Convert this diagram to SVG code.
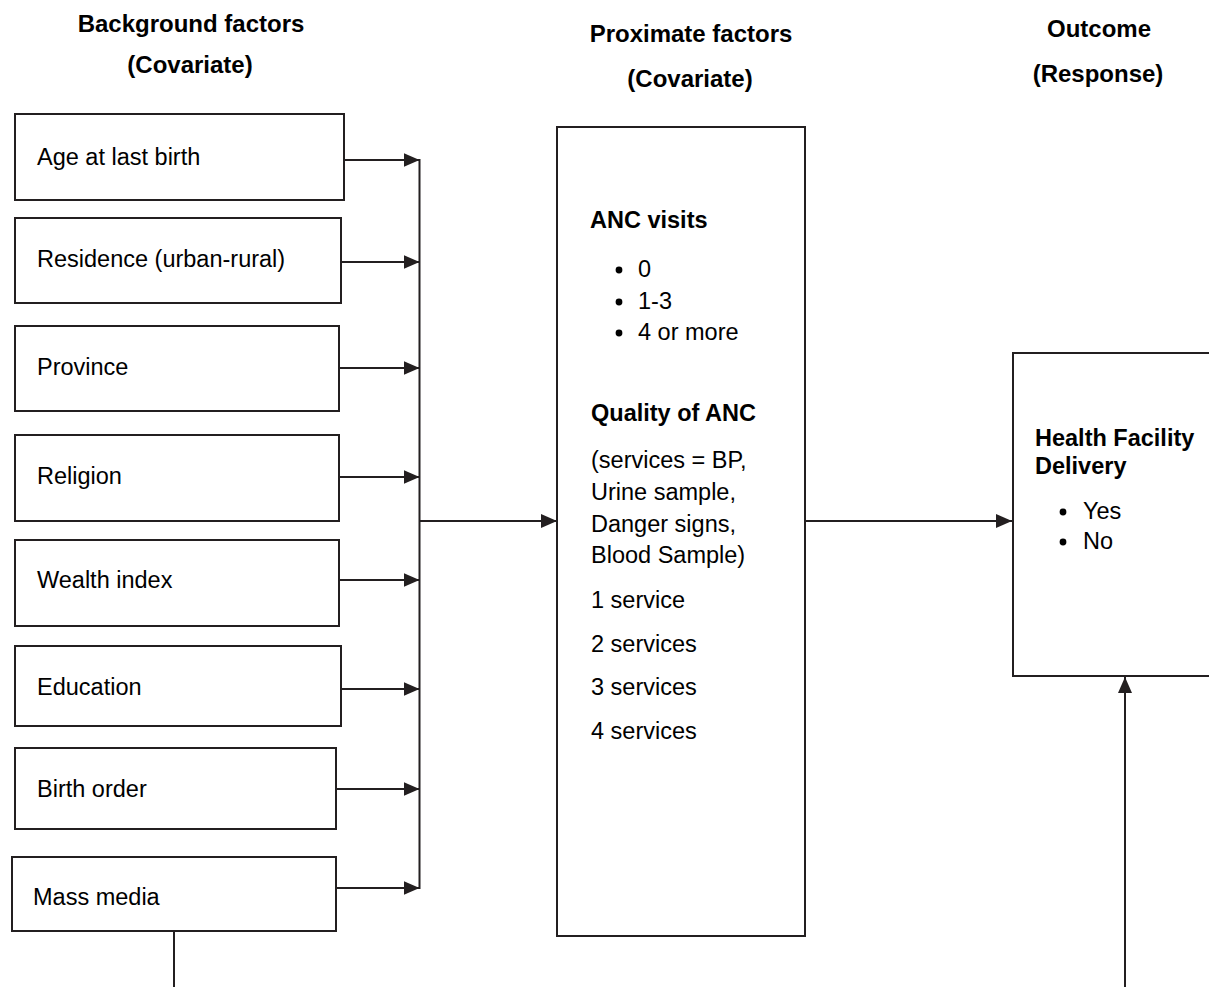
<svg xmlns="http://www.w3.org/2000/svg" width="1209" height="987" viewBox="0 0 1209 987">
<defs>
<style>
.box{fill:#fff;stroke:#231f20;stroke-width:2}
.ln{fill:none;stroke:#231f20;stroke-width:2}
.t{font-family:"Liberation Sans",Arial,sans-serif;font-size:23.5px;fill:#000}
.b{font-weight:bold}
.dot{fill:#000}
.h{font-family:"Liberation Sans",Arial,sans-serif;font-size:24px;font-weight:bold;fill:#000;text-anchor:middle}
</style>
<marker id="arr" markerUnits="userSpaceOnUse" markerWidth="17" markerHeight="15" refX="16" refY="7" orient="auto">
<path d="M0,0 L16,7 L0,14 z" fill="#231f20"/>
</marker>
</defs>
<rect width="1209" height="987" fill="#fff"/>

<g id="headers">
<text class="h" x="191" y="32">Background factors</text>
<text class="h" x="190" y="73">(Covariate)</text>
<text class="h" x="691" y="42">Proximate factors</text>
<text class="h" x="690" y="87">(Covariate)</text>
<text class="h" x="1099" y="37">Outcome</text>
<text class="h" x="1098" y="82">(Response)</text>
</g>

<g id="connectors">
<line class="ln" x1="339" y1="160" x2="419.5" y2="160" marker-end="url(#arr)"/>
<line class="ln" x1="341" y1="262" x2="419.5" y2="262" marker-end="url(#arr)"/>
<line class="ln" x1="339" y1="368" x2="419.5" y2="368" marker-end="url(#arr)"/>
<line class="ln" x1="339" y1="477" x2="419.5" y2="477" marker-end="url(#arr)"/>
<line class="ln" x1="337" y1="580" x2="419.5" y2="580" marker-end="url(#arr)"/>
<line class="ln" x1="341" y1="689" x2="419.5" y2="689" marker-end="url(#arr)"/>
<line class="ln" x1="334" y1="789" x2="419.5" y2="789" marker-end="url(#arr)"/>
<line class="ln" x1="336" y1="888" x2="419.5" y2="888" marker-end="url(#arr)"/>
<line class="ln" x1="419.5" y1="159" x2="419.5" y2="889"/>
<line class="ln" x1="420" y1="521" x2="557" y2="521" marker-end="url(#arr)"/>
<line class="ln" x1="805" y1="521" x2="1012" y2="521" marker-end="url(#arr)"/>
<line class="ln" x1="174" y1="931" x2="174" y2="987"/>
<line class="ln" x1="1125" y1="987" x2="1125" y2="677" marker-end="url(#arr)"/>
</g>

<g id="age">
<rect class="box" x="15" y="114" width="329" height="86"/>
<text class="t" x="37" y="165">Age at last birth</text>
</g>
<g id="residence">
<rect class="box" x="15" y="218" width="326" height="85"/>
<text class="t" x="37" y="267">Residence (urban-rural)</text>
</g>
<g id="province">
<rect class="box" x="15" y="326" width="324" height="85"/>
<text class="t" x="37" y="375">Province</text>
</g>
<g id="religion">
<rect class="box" x="15" y="435" width="324" height="86"/>
<text class="t" x="37" y="484">Religion</text>
</g>
<g id="wealth">
<rect class="box" x="15" y="540" width="324" height="86"/>
<text class="t" x="37" y="588">Wealth index</text>
</g>
<g id="education">
<rect class="box" x="15" y="646" width="326" height="80"/>
<text class="t" x="37" y="695">Education</text>
</g>
<g id="birthorder">
<rect class="box" x="15" y="748" width="321" height="81"/>
<text class="t" x="37" y="797">Birth order</text>
</g>
<g id="massmedia">
<rect class="box" x="12" y="857" width="324" height="74"/>
<text class="t" x="33" y="905">Mass media</text>
</g>

<g id="proximate">
<rect class="box" x="557" y="127" width="248" height="809"/>
<text class="t b" x="590" y="228">ANC visits</text>
<circle class="dot" cx="619" cy="270" r="3.4"/><text class="t" x="638" y="277">0</text>
<circle class="dot" cx="619" cy="302" r="3.4"/><text class="t" x="638" y="309">1-3</text>
<circle class="dot" cx="619" cy="333" r="3.4"/><text class="t" x="638" y="340">4 or more</text>
<text class="t b" x="591" y="421">Quality of ANC</text>
<text class="t" x="591" y="468">(services = BP,</text>
<text class="t" x="591" y="500">Urine sample,</text>
<text class="t" x="591" y="532">Danger signs,</text>
<text class="t" x="591" y="563">Blood Sample)</text>
<text class="t" x="591" y="608">1 service</text>
<text class="t" x="591" y="652">2 services</text>
<text class="t" x="591" y="695">3 services</text>
<text class="t" x="591" y="739">4 services</text>
</g>

<g id="outcome">
<rect class="box" x="1013" y="353" width="230" height="323"/>
<text class="t b" x="1035" y="446">Health Facility</text>
<text class="t b" x="1035" y="474">Delivery</text>
<circle class="dot" cx="1063" cy="512" r="3.4"/><text class="t" x="1083" y="519">Yes</text>
<circle class="dot" cx="1063" cy="542" r="3.4"/><text class="t" x="1083" y="549">No</text>
</g>
</svg>
